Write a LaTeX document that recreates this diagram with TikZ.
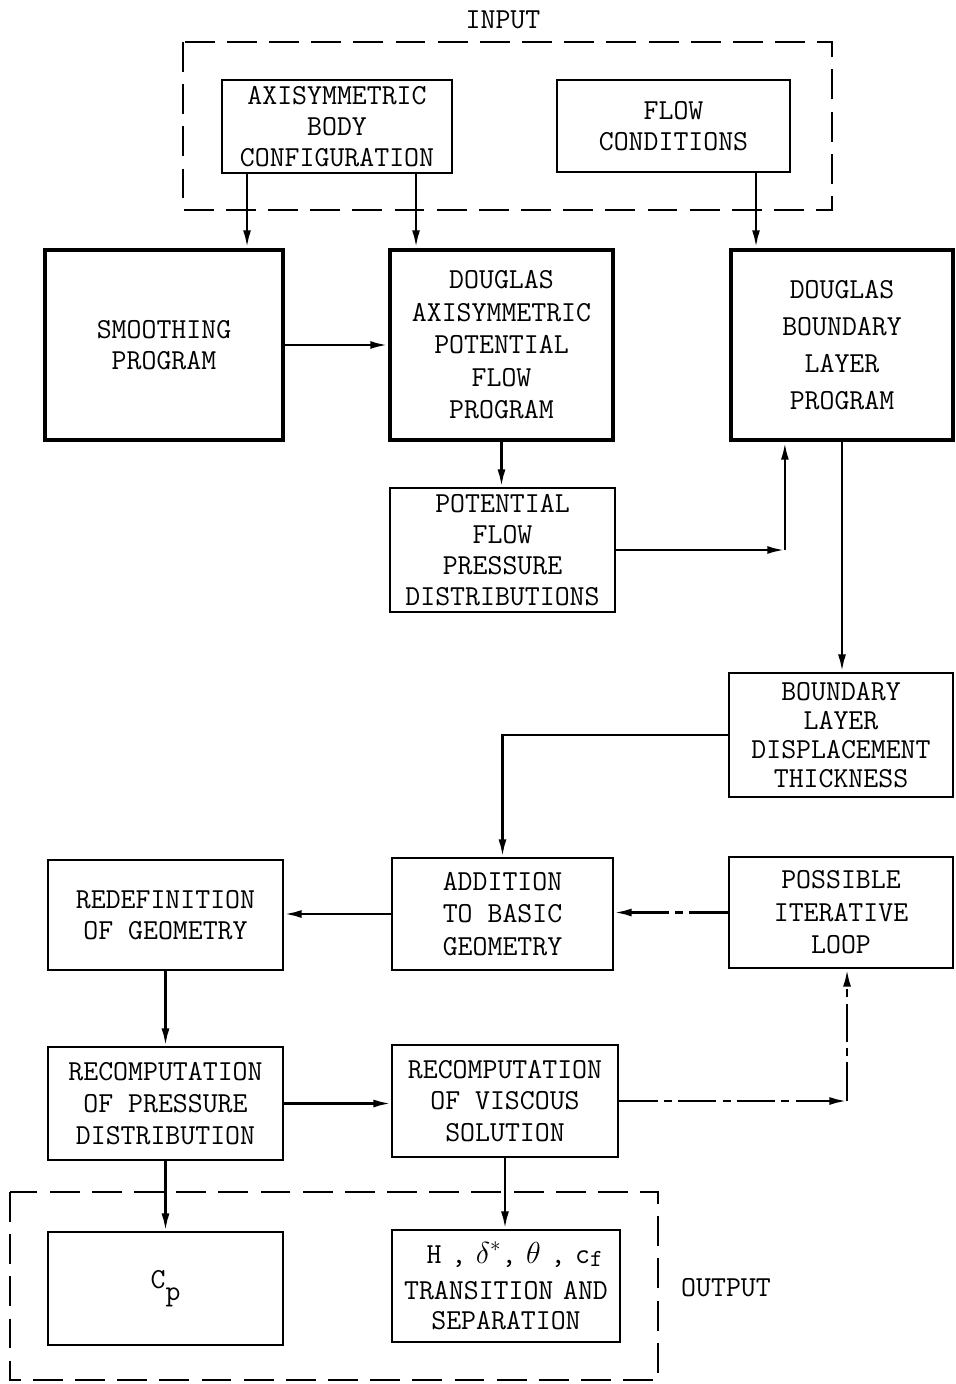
\documentclass[tikz,border=0pt]{standalone}
\usetikzlibrary{calc,arrows.meta}

\begin{document}
\begin{tikzpicture}[
		x=0.02cm, y=-0.02cm,
		every node/.style={font=\ttfamily\fontsize{16.5}{17.5}\selectfont},
		box/.style={draw, line width=1.1pt, align=center, inner sep=0pt},
		bigbox/.style={draw, line width=2.4pt, align=center, inner sep=0pt},
		frame/.style={line width=1.4pt, dash pattern=on 17pt off 7pt},
		arrow/.style={-{Latex[length=10pt,width=4.5pt]}, line width=1.5pt},
		dasharrow/.style={arrow, dash pattern=on 22pt off 3.5pt on 4.5pt off 3.5pt}
		]
		\useasboundingbox (0,0) rectangle (956,1384);
		
		% -------- Input group --------
		\node (inlabel) at (503,20) {INPUT};
		\draw[frame] (183,42) rectangle (832,210);
		\node[box, minimum width=230*0.02cm, minimum height=93*0.02cm] (axi) at (337,126.5) {AXISYMMETRIC\\BODY\\CONFIGURATION};
		\node[box, minimum width=233*0.02cm, minimum height=92*0.02cm] (flow) at (673.5,126) {FLOW\\CONDITIONS};
		
		% -------- Programs --------
		\node[bigbox, minimum width=238*0.02cm, minimum height=190*0.02cm] (smooth) at (164,345) {SMOOTHING\\PROGRAM};
		\node[bigbox, minimum width=223*0.02cm, minimum height=190*0.02cm, font=\ttfamily\fontsize{16.5}{18.5}\selectfont] (dpot) at (501.5,345) {DOUGLAS\\AXISYMMETRIC\\POTENTIAL\\FLOW\\PROGRAM};
		\node[bigbox, minimum width=222*0.02cm, minimum height=190*0.02cm, font=\ttfamily\fontsize{16.5}{21}\selectfont] (dbl) at (842,345) {DOUGLAS\\BOUNDARY\\LAYER\\PROGRAM};
		
		% -------- Intermediate results --------
		\node[box, minimum width=225*0.02cm, minimum height=124*0.02cm] (pfp) at (502.5,550) {POTENTIAL\\FLOW\\PRESSURE\\DISTRIBUTIONS};
		\node[box, minimum width=224*0.02cm, minimum height=124*0.02cm, font=\ttfamily\fontsize{16.5}{16.5}\selectfont] (bldt) at (841,735) {BOUNDARY\\LAYER\\DISPLACEMENT\\THICKNESS};
		
		% -------- Geometry loop --------
		\node[box, minimum width=235*0.02cm, minimum height=110*0.02cm] (redef) at (165.5,915) {REDEFINITION\\OF GEOMETRY};
		\node[box, minimum width=221*0.02cm, minimum height=112*0.02cm, font=\ttfamily\fontsize{16.5}{18.5}\selectfont] (addit) at (502.5,914) {ADDITION\\TO BASIC\\GEOMETRY};
		\node[box, minimum width=224*0.02cm, minimum height=111*0.02cm, font=\ttfamily\fontsize{16.5}{18.5}\selectfont] (iter) at (841,912.5) {POSSIBLE\\ITERATIVE\\LOOP};
		\node[box, minimum width=235*0.02cm, minimum height=113*0.02cm, font=\ttfamily\fontsize{16.5}{18}\selectfont] (rpress) at (165.5,1103.5) {RECOMPUTATION\\OF PRESSURE\\DISTRIBUTION};
		\node[box, minimum width=226*0.02cm, minimum height=112*0.02cm, font=\ttfamily\fontsize{16.5}{18}\selectfont] (rvisc) at (505,1101) {RECOMPUTATION\\OF VISCOUS\\SOLUTION};
		
		% -------- Output group --------
		\draw[frame] (10,1192) rectangle (658,1380);
		\node (outlabel) at (726,1288) {OUTPUT};
		\node[box, minimum width=235*0.02cm, minimum height=113*0.02cm] (cp) at (165.5,1288.5) {\raisebox{0.4ex}{C}\raisebox{-0.6ex}{p}};
		\node[box, text width=228*0.02cm, minimum height=112*0.02cm] (hbox) at (506,1286) {\hspace{0.6em}H~,~$\delta^{*}$,~$\theta$~,~c\raisebox{-0.3ex}{\fontsize{14}{14}\selectfont f}\\[3pt]TRANSITION AND\\SEPARATION};
		
		% ---- Input to programs ----
		\path ($(axi.south west)+(26,0)$) coordinate (a1);
		\path ($(axi.south west)+(195,0)$) coordinate (a2);
		\path ($(flow.south west)+(200,0)$) coordinate (f1);
		\draw[arrow] (a1) -- (a1 |- smooth.north);
		\draw[arrow] (a2) -- (a2 |- dpot.north);
		\draw[arrow] (f1) -- (f1 |- dbl.north);
		
		% ---- Program chain ----
		\draw[arrow] (smooth) -- (dpot);
		\draw[arrow] (dpot.south) -- (dpot.south |- pfp.north);
		\path ($(dbl.south west)+(56,0)$) coordinate (d1);
		\coordinate (c1) at (d1 |- pfp.east);
		\draw[arrow] (pfp.east) -- (c1);
		\draw[arrow] (c1) -- (d1);
		\draw[arrow] (dbl.south) -- (dbl.south |- bldt.north);
		\draw[arrow] (bldt.west) -| (addit.north);
		
		% ---- Geometry loop ----
		\draw[arrow] (addit.west) -- (addit.west -| redef.east);
		\draw[dasharrow] (iter.west) -- (iter.west -| addit.east);
		\draw[arrow] (redef.south) -- (redef.south |- rpress.north);
		\draw[arrow] (rpress.east) -- (rpress.east -| rvisc.west);
		\path ($(iter.south west)+(119,0)$) coordinate (i1);
		\coordinate (c2) at (i1 |- rvisc.east);
		\draw[dasharrow] (rvisc.east) -- (c2);
		\draw[dasharrow] (c2) -- (i1);
		
		% ---- Results to output ----
		\draw[arrow] (rpress.south) -- (rpress.south |- cp.north);
		\draw[arrow] (rvisc.south) -- (rvisc.south |- hbox.north);
		
	\end{tikzpicture}
\end{document}
